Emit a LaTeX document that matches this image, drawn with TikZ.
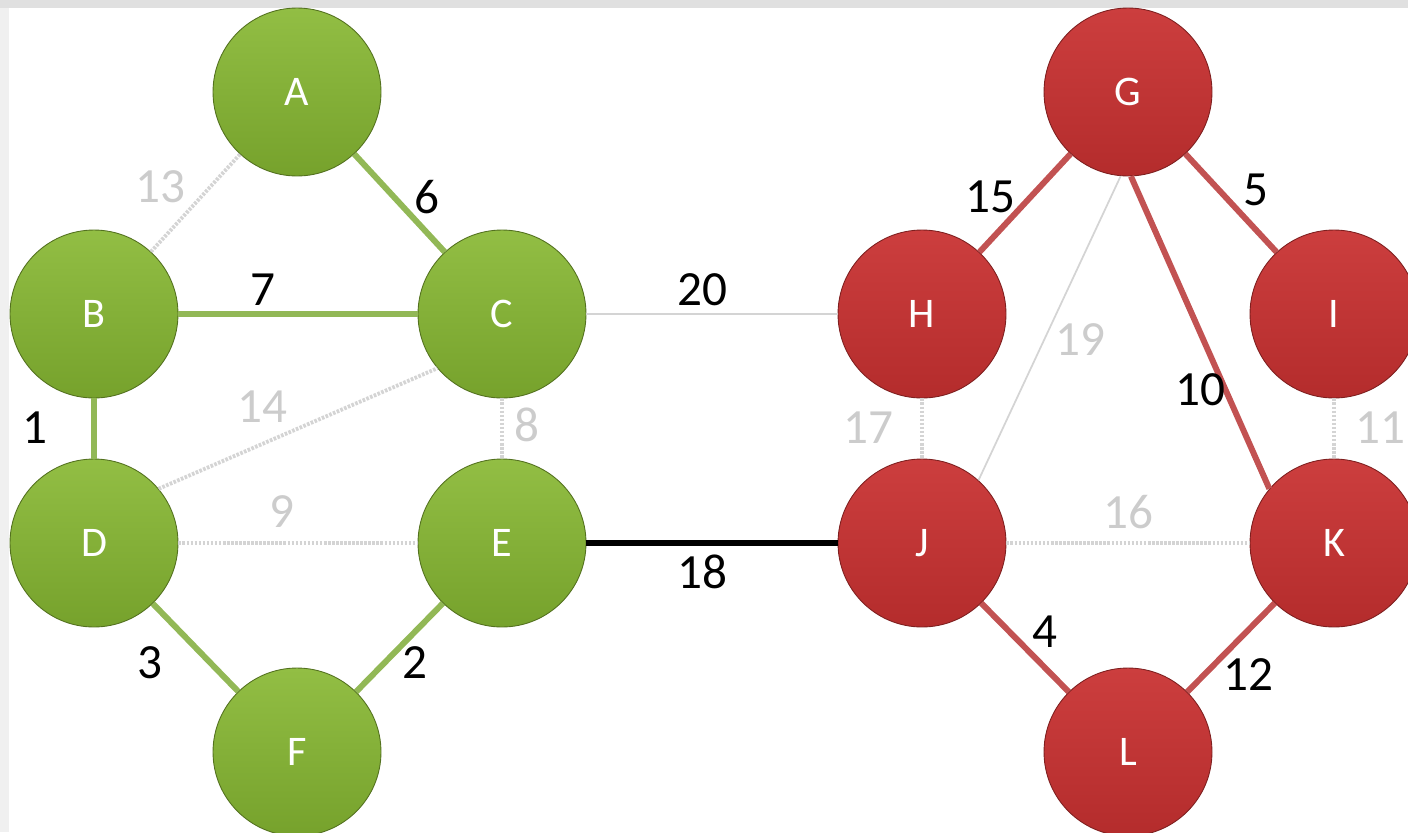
\documentclass[tikz,border=0pt]{standalone}
\usepackage{fontspec}
\setmainfont{Carlito}
\usetikzlibrary{calc,backgrounds}

\definecolor{nodegreen}{RGB}{146,190,68}
\definecolor{nodegreendk}{RGB}{118,162,44}
\definecolor{nodered}{RGB}{204,62,62}
\definecolor{noderdk}{RGB}{180,44,44}
\definecolor{linegreen}{RGB}{146,184,86}
\definecolor{linered}{RGB}{194,82,82}
\definecolor{fadegray}{RGB}{212,212,212}

\tikzset{
  gnode/.style={circle, minimum size=3.36cm, inner sep=0pt, top color=nodegreen, bottom color=nodegreendk,
    draw=nodegreendk!70!black, line width=0.5pt, text=white, font=\fontsize{24}{24}\selectfont},
  rnode/.style={circle, minimum size=3.36cm, inner sep=0pt, top color=nodered, bottom color=noderdk,
    draw=noderdk!70!black, line width=0.5pt, text=white, font=\fontsize{24}{24}\selectfont},
  gline/.style={draw=linegreen, line width=3.4pt},
  rline/.style={draw=linered, line width=3.4pt},
  dotline/.style={draw=fadegray, line width=2.2pt, dash pattern=on 1.5pt off 0.8pt},
  thinline/.style={draw=fadegray, line width=1.6pt},
  wlab/.style={inner sep=1pt, text=black, font=\fontsize{28}{28}\selectfont},
  glab/.style={wlab, text=black!20},
}

\begin{document}
\begin{tikzpicture}[x=0.02cm,y=-0.02cm]
\useasboundingbox (0,0) rectangle (1408,832);
\fill[black!6] (0,0) rectangle (9,832);
\fill[black!12] (0,0) rectangle (1408,8);

% left tree
\node[gnode] (A) at (297,92) {A};
\node[gnode] (B) at (94,314) {B};
\node[gnode] (C) at (502,314) {C};
\node[gnode] (D) at (94,543) {D};
\node[gnode] (E) at (502,543) {E};
\node[gnode] (F) at (297,752) {F};

% right tree
\node[rnode] (G) at (1128,92) {G};
\node[rnode] (H) at (922,314) {H};
\node[rnode] (I) at (1334,314) {I};
\node[rnode] (J) at (922,543) {J};
\node[rnode] (K) at (1334,543) {K};
\node[rnode] (L) at (1128,752) {L};

% edges left out
\draw[dotline] (B) -- (A);
\draw[dotline] (D.40) -- (C.220);
\draw[dotline] (C) -- (E);
\draw[dotline] (D) -- (E);
\draw[thinline] (C) -- (H);
\draw[thinline, line width=1pt] (G.265) -- (J.48);
\draw[dotline] (H) -- (J);
\draw[dotline] (I) -- (K);
\draw[dotline] (J) -- (K);

% tree edges
\draw[gline] (A) -- (C);
\draw[gline] (B) -- (C);
\draw[gline] (B) -- (D);
\draw[gline] (D) -- (F);
\draw[gline] (E) -- (F);
\draw[rline] (G) -- (H);
\draw[rline] (G) -- (I);
\draw[rline] (G.-88) -- (K.140);
\draw[rline] (J) -- (L);
\draw[rline] (K) -- (L);
\draw[black, line width=3.2pt] (E) -- (J);

% weights
\node[glab] (w13) at (160,187) {13};
\node[wlab] (w6) at (427,197) {6};
\node[wlab] (w7) at (263,290) {7};
\node[wlab] (w20) at (702,290) {20};
\node[wlab] (w15) at (990,197) {15};
\node[wlab] (w5) at (1256,190) {5};
\node[glab] (w19) at (1080,340) {19};
\node[wlab] (w10) at (1200,390) {10};
\node[wlab] (w1) at (35,428) {1};
\node[glab] (w14) at (262,407) {14};
\node[glab] (w8) at (527,425) {8};
\node[glab] (w17) at (868,428) {17};
\node[glab] (w11) at (1380,428) {11};
\node[glab] (w9) at (282,512) {9};
\node[glab] (w16) at (1128,512) {16};
\node[wlab] (w18) at (702,572) {18};
\node[wlab] (w3) at (150,663) {3};
\node[wlab] (w2) at (415,663) {2};
\node[wlab] (w4) at (1045,632) {4};
\node[wlab] (w12) at (1248,675) {12};
\end{tikzpicture}
\end{document}
